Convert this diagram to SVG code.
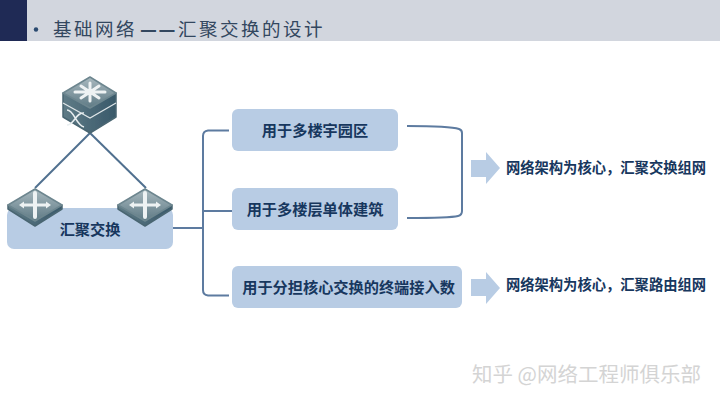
<svg xmlns="http://www.w3.org/2000/svg" width="720" height="405" viewBox="0 0 720 405">
<defs>
<linearGradient id="topG" x1="0" y1="0" x2="0" y2="1"><stop offset="0" stop-color="#a9b9bf"/><stop offset="1" stop-color="#5e7a85"/></linearGradient>
<linearGradient id="sideG" x1="0" y1="0" x2="1" y2="0"><stop offset="0" stop-color="#5f7b86"/><stop offset="1" stop-color="#39596a"/></linearGradient>
<filter id="soft" x="-5%" y="-5%" width="110%" height="110%"><feGaussianBlur stdDeviation="0.45"/></filter>
<g id="arm"><path d="M0 0H11" stroke="#eef2f3" stroke-width="2.800" stroke-linecap="round"/><path d="M11 -3.500L16 0L11 3.500Z" fill="#eef2f3"/></g>
<g id="small">
<path fill="url(#sideG)" stroke="#4a6672" stroke-width="1.500" stroke-linejoin="round" d="M1 17V21L28 38L55 21V17Z"/>
<path fill="url(#topG)" stroke="#6d868f" stroke-width="1.500" stroke-linejoin="round" d="M28 1L55 17L28 33L1 17Z"/>
<use href="#arm" transform="translate(28 17)"/>
<use href="#arm" transform="translate(28 17) rotate(180)"/>
<path d="M28 17V5M28 17V29" stroke="#eef2f3" stroke-width="4" stroke-linecap="round"/>
</g>
</defs>
<style>
.box{fill:#b8cce4}
.lbl{font-family:"Liberation Sans","Noto Sans CJK SC",sans-serif;font-weight:700;fill:#17375e;text-anchor:middle}
.b{font-size:15.200px}
.r{font-size:14.300px}
.line{fill:none;stroke:#5d7ba0;stroke-width:2}
.link{stroke:#50708f;stroke-width:2;fill:none}
.arrow{fill:#b8cce4}
</style>
<rect width="720" height="405" fill="#fff"/>
<g id="header">
<rect x="27" width="693" height="41" fill="#d2d6de"/>
<rect width="27" height="41" fill="#1f2a55"/>
<circle cx="36" cy="29.500" r="2.200" fill="#2a4a70"/>
<text x="53" y="36" font-family="'Noto Sans CJK SC','Liberation Serif',serif" font-size="18.500" letter-spacing="2.500" fill="#33475f">基础网络<tspan x="140" font-weight="900">—</tspan><tspan x="158.500" font-weight="900">—</tspan><tspan x="178">汇聚交换的设计</tspan></text>
</g>
<g id="connectors">
<line class="link" x1="90" y1="133" x2="35" y2="188"/>
<line class="link" x1="90" y1="133" x2="146" y2="188"/>
<path class="line" d="M173 228H203M229 130.500H208Q203 131 203 136V290Q203 295 208 295.500H229M203 211H232"/>
<path class="line" d="M407 126Q450 126 459 129Q462 130 462 133V211Q462 215 458 216Q450 218 407 218"/>
</g>
<g id="agg">
<rect class="box" x="7" y="208" width="166" height="41" rx="7"/>
<text class="lbl b" x="90" y="234.500">汇聚交换</text>
</g>
<g id="core" filter="url(#soft)">
<path fill="url(#sideG)" stroke="#4a6672" stroke-width="1.500" stroke-linejoin="round" d="M63 93V117L90 133L116 117V93Z"/>
<path fill="url(#topG)" stroke="#6d868f" stroke-width="1.500" stroke-linejoin="round" d="M90 77L116 93L90 108L63 93Z"/>
<path d="M63 103L90 118L116 103" stroke="#dfe6e8" stroke-width="1.200" fill="none"/>
<path d="M75 92H105M90 83V101M81 86L99 98M99 86L81 98" stroke="#eef2f3" stroke-width="3" stroke-linecap="round"/>
<path d="M67 110C74 110 76 125 84 127M67 125C74 125 76 112 84 113" stroke="#e8eef0" stroke-width="1.600" fill="none"/>
</g>
<g id="sw1" filter="url(#soft)"><use href="#small" transform="translate(7 188)"/></g>
<g id="sw2" filter="url(#soft)"><use href="#small" transform="translate(117 188)"/></g>
<g id="n1"><rect class="box" x="232" y="109" width="166" height="42" rx="6"/><text class="lbl b" x="315" y="136">用于多楼宇园区</text></g>
<g id="n2"><rect class="box" x="232" y="188" width="166" height="42" rx="6"/><text class="lbl b" x="315" y="215">用于多楼层单体建筑</text></g>
<g id="n3"><rect class="box" x="232" y="266" width="230" height="42" rx="6"/><text class="lbl b" x="348.500" y="292.500">用于分担核心交换的终端接入数</text></g>
<g id="a1"><path class="arrow" d="M471 160H486V152L500 168L486 184V177H471Z"/></g>
<g id="a2"><path class="arrow" d="M471 279H486V272L500 288L486 304V296H471Z"/></g>
<g id="r1"><text class="lbl r" x="606" y="173">网络架构为核心，汇聚交换组网</text></g>
<g id="r2"><text class="lbl r" x="606" y="290">网络架构为核心，汇聚路由组网</text></g>
<g id="watermark"><text x="472" y="382" font-family="'Noto Sans CJK SC',sans-serif" font-size="20.500" fill="#d4d4d4">知乎 @网络工程师俱乐部</text></g>
</svg>
